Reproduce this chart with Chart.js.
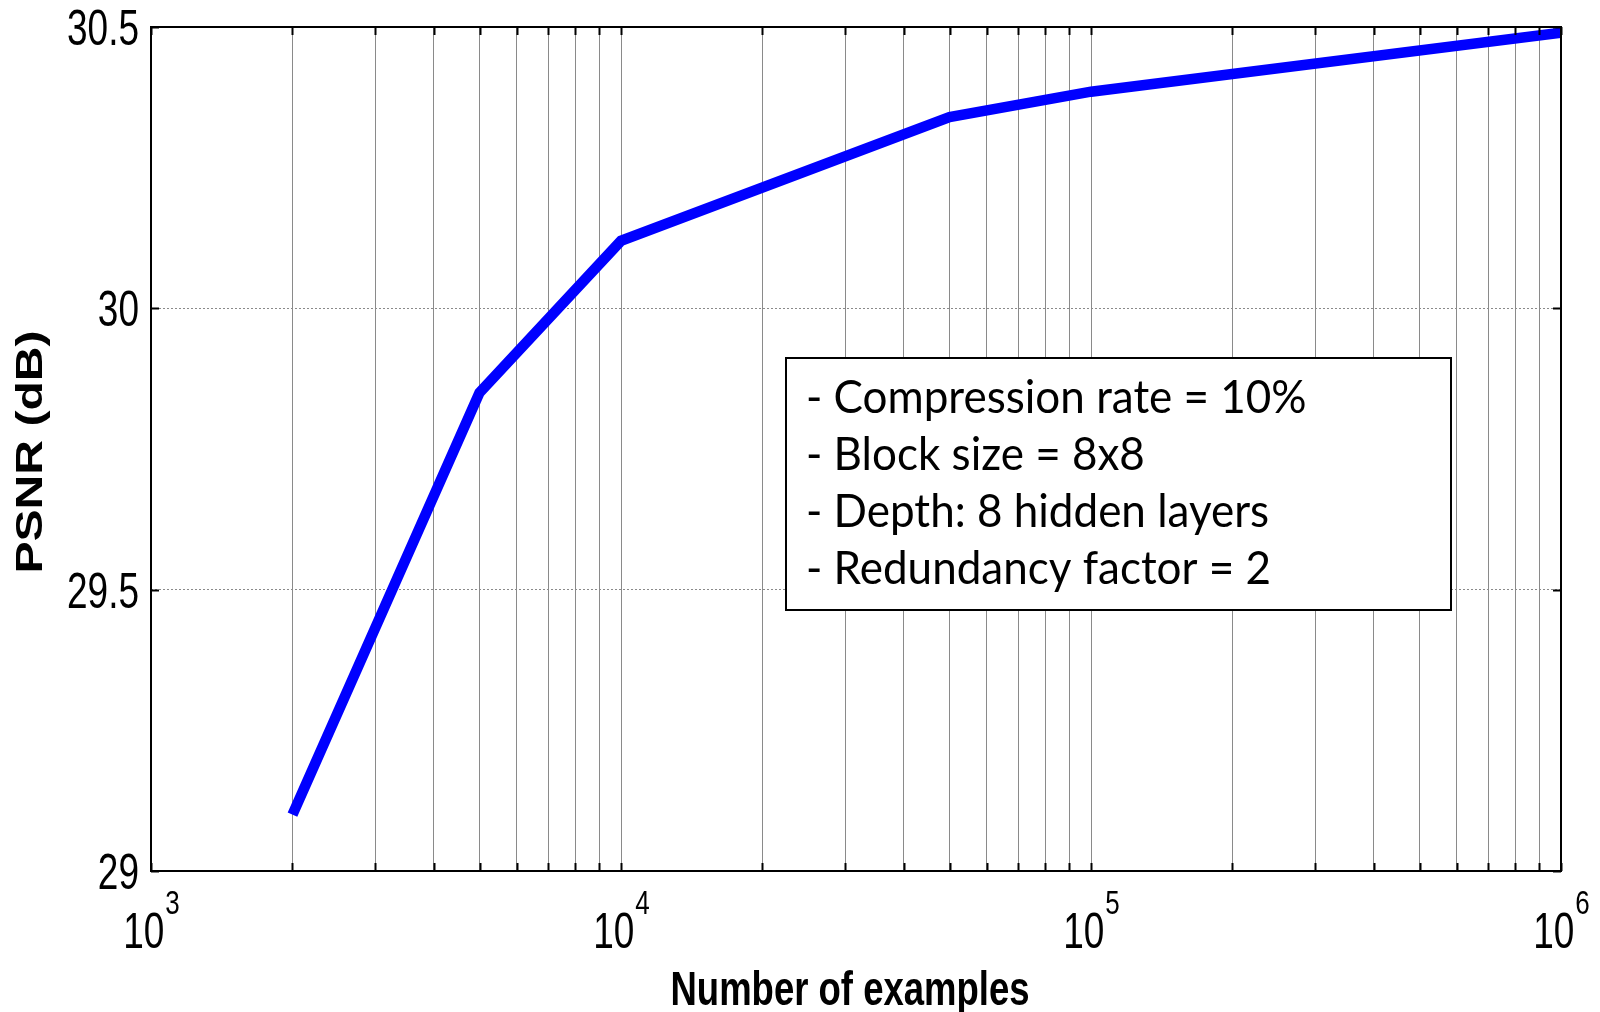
<!DOCTYPE html>
<html><head><meta charset="utf-8">
<script src="https://cdn.jsdelivr.net/npm/chart.js@4/dist/chart.umd.min.js"></script>
<style>html,body{margin:0;padding:0;background:#fff;overflow:hidden}</style>
</head><body>
<canvas id="c" width="1600" height="1012"></canvas>
<script>
// ---- data ----
const examples = [2000, 5000, 10000, 50000, 100000, 1000000];
const psnr = [29.10, 29.85, 30.12, 30.34, 30.385, 30.49];
const xDecades = [1e3, 1e4, 1e5, 1e6];
const xMinorMultipliers = [2, 3, 4, 5, 6, 7, 8, 9];
const yTicks = [29, 29.5, 30, 30.5];
const yTickLabels = ['29', '29.5', '30', '30.5'];
const xTitle = 'Number of examples';
const yTitle = 'PSNR (dB)';
const noteLines = ['- Compression rate = 10%', '- Block size = 8x8', '- Depth: 8 hidden layers', '- Redundancy factor = 2'];

const xTickValues = [];
xDecades.forEach((d, i) => {
  xTickValues.push(d);
  if (i < xDecades.length - 1) xMinorMultipliers.forEach(m => xTickValues.push(d * m));
});

function stretchText(ctx, text, x, y, font, sx, sy, align, baseline) {
  ctx.save();
  ctx.translate(x, y);
  ctx.scale(sx, sy);
  ctx.font = font;
  ctx.textAlign = align;
  ctx.textBaseline = baseline;
  ctx.fillText(text, 0, 0);
  ctx.restore();
}

const SY = 1.33;
const decorPlugin = {
  id: 'decor',
  afterDraw(chart) {
    const ctx = chart.ctx;
    const a = chart.chartArea;
    const xs = chart.scales.x, ys = chart.scales.y;
    ctx.save();
    // inward tick marks
    ctx.strokeStyle = '#000';
    ctx.lineWidth = 2;
    ctx.beginPath();
    xTickValues.forEach(v => {
      const px = Math.round(xs.getPixelForValue(v)) + 0.5;
      ctx.moveTo(px, a.bottom); ctx.lineTo(px, a.bottom - 8);
      ctx.moveTo(px, a.top); ctx.lineTo(px, a.top + 8);
    });
    yTicks.forEach(v => {
      const py = Math.round(ys.getPixelForValue(v)) + 0.5;
      ctx.moveTo(a.left, py); ctx.lineTo(a.left + 8, py);
      ctx.moveTo(a.right, py); ctx.lineTo(a.right - 8, py);
    });
    ctx.stroke();
    // axes box
    ctx.lineWidth = 2;
    ctx.strokeRect(a.left, a.top, a.right - a.left, a.bottom - a.top);

    ctx.fillStyle = '#000';
    // y tick labels
    yTicks.forEach((v, i) => {
      const py = ys.getPixelForValue(v);
      stretchText(ctx, yTickLabels[i], a.left - 12, py + 18, '37px "Liberation Sans"', 1, SY, 'right', 'alphabetic');
    });

    // x tick labels 10^n
    xDecades.forEach(v => {
      const px = xs.getPixelForValue(v);
      const exp = String(Math.round(Math.log10(v)));
      ctx.font = '37px "Liberation Sans"';
      const wb = ctx.measureText('10').width;
      ctx.font = '26px "Liberation Sans"';
      const we = ctx.measureText(exp).width;
      const x0 = px - (wb + we) / 2;
      stretchText(ctx, '10', x0, 948, '37px "Liberation Sans"', 1, SY, 'left', 'alphabetic');
      stretchText(ctx, exp, x0 + wb + 1, 914, '26px "Liberation Sans"', 1, 1.25, 'left', 'alphabetic');
    });

    // x title
    stretchText(ctx, xTitle, (a.left + a.right) / 2 - 6, 1005, 'bold 36.5px "Liberation Sans"', 1, 1.3, 'center', 'alphabetic');

    // y title
    ctx.save();
    ctx.translate(31.5, (a.top + a.bottom) / 2 + 3);
    ctx.rotate(-Math.PI / 2);
    ctx.scale(1.3, 1);
    ctx.font = 'bold 37px "Liberation Sans"';
    ctx.textAlign = 'center';
    ctx.textBaseline = 'middle';
    ctx.fillText(yTitle, 0, 0);
    ctx.restore();

    // annotation box
    const bx = 786, by = 358, bw = 665, bh = 252;
    ctx.fillStyle = '#fff';
    ctx.fillRect(bx, by, bw, bh);
    ctx.strokeStyle = '#000';
    ctx.lineWidth = 2;
    ctx.strokeRect(bx, by, bw, bh);
    ctx.fillStyle = '#000';
    noteLines.forEach((t, i) => stretchText(ctx, t, 806, 398 + i * 57, '44px Lato', 1, 1.07, 'left', 'middle'));
    ctx.restore();
  }
};

new Chart(document.getElementById('c'), {
  type: 'line',
  data: {
    datasets: [{
      data: examples.map((x, i) => ({x: x, y: psnr[i]})),
      borderColor: '#0000ff',
      borderWidth: 10.5,
      pointRadius: 0,
      tension: 0,
      fill: false,
      borderJoinStyle: 'miter',
      borderCapStyle: 'butt'
    }]
  },
  options: {
    responsive: false,
    animation: false,
    devicePixelRatio: 1,
    layout: {padding: {left: 0, top: 27, right: 39, bottom: 0}},
    plugins: {legend: {display: false}, tooltip: {enabled: false}},
    scales: {
      x: {
        type: 'logarithmic',
        min: 1e3, max: 1e6,
        afterBuildTicks: s => { s.ticks = xTickValues.map(v => ({value: v})); },
        afterFit: s => { s.height = 141; },
        ticks: {display: false},
        grid: {color: '#8a8a8a', lineWidth: 1, drawTicks: false},
        border: {display: false}
      },
      y: {
        type: 'linear',
        min: 29, max: 30.5,
        afterBuildTicks: s => { s.ticks = yTicks.map(v => ({value: v})); },
        afterFit: s => { s.width = 151; },
        ticks: {display: false},
        grid: {color: '#8a8a8a', lineWidth: 1, drawTicks: false, borderDash: [2, 2]},
        border: {display: false, dash: [2, 2]}
      }
    }
  },
  plugins: [decorPlugin]
});
</script>
</body></html>
